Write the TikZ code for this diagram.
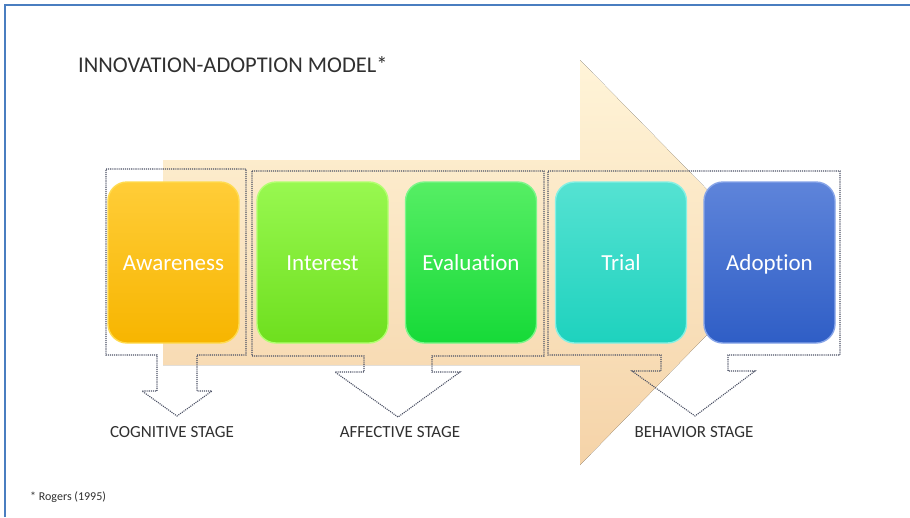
\documentclass[tikz,border=0pt]{standalone}
\usepackage{fontspec}
\setmainfont{Carlito}[Ligatures=NoCommon]
\definecolor{frameblue}{HTML}{4A7EC0}
\definecolor{txtgray}{HTML}{303030}
\definecolor{callgray}{HTML}{4A5064}
\definecolor{arrtop}{HTML}{FFF4D8}
\definecolor{arrbot}{HTML}{F5D3A8}
\definecolor{awT}{HTML}{FFCD38}\definecolor{awB}{HTML}{F7B500}\definecolor{awE}{HTML}{FFDB4F}
\definecolor{inT}{HTML}{98F850}\definecolor{inB}{HTML}{6EDF1E}\definecolor{inE}{HTML}{B2FF70}
\definecolor{evT}{HTML}{56EE64}\definecolor{evB}{HTML}{16DA38}\definecolor{evE}{HTML}{7CF58A}
\definecolor{trT}{HTML}{55E2D2}\definecolor{trB}{HTML}{1ED2BE}\definecolor{trE}{HTML}{86F0E4}
\definecolor{adT}{HTML}{5E84DA}\definecolor{adB}{HTML}{2F5EC6}\definecolor{adE}{HTML}{86A4E8}
\tikzset{
  stagebox/.style={rectangle, rounded corners=19pt, minimum width=131pt, minimum height=161pt,
    inner sep=0pt, line width=1.4pt, text=white, text height=17pt, text depth=2pt,
    font=\fontsize{23}{26}\selectfont},
  callout/.style={callgray, line width=1.1pt, densely dotted},
  stagelabel/.style={text=txtgray, font=\fontsize{17}{20}\selectfont, inner sep=0pt},
}
\begin{document}
\begin{tikzpicture}[x=1pt,y=-1pt]
\useasboundingbox (0,0) rectangle (910,517);
\fill[white] (0,0) rectangle (910,517);
% frame (top and left)
\draw[frameblue, line width=2pt] (5,517) -- (5,5) -- (910,5);
% big background arrow
\fill[top color=arrtop, bottom color=arrbot]
  (163,160) -- (580,160) -- (580,60) -- (778,262) -- (580,465) -- (580,365) -- (163,365) -- cycle;
% title and footnote
\node[anchor=west, text=txtgray, font=\fontsize{22.5}{26}\selectfont, inner sep=0pt] (title) at (78,65) {INNOVATION-ADOPTION MODEL*};
\node[anchor=west, text=txtgray, font=\fontsize{12}{14}\selectfont, inner sep=0pt] (note) at (30,497) {* Rogers (1995)};
% callouts
\draw[callout] (106,169) -- (246,169) -- (246,355) -- (197,355) -- (197,391) -- (212,391) -- (177,416)
  -- (142,391) -- (157,391) -- (157,355) -- (106,355) -- cycle;
\draw[callout] (252,171) -- (544,171) -- (544,356) -- (432,356) -- (432,372) -- (460,372) -- (398,417)
  -- (335,372) -- (364,372) -- (364,356) -- (252,356) -- cycle;
\draw[callout] (548,171) -- (840,171) -- (840,355) -- (728,355) -- (728,371) -- (755,371) -- (695,416)
  -- (632,371) -- (661,371) -- (661,355) -- (548,355) -- cycle;
% stage boxes
\node[stagebox, draw=awE, top color=awT, bottom color=awB] (aw) at (173.5,262.5) {Awareness};
\node[stagebox, draw=inE, top color=inT, bottom color=inB] (in) at (322.5,262.5) {Interest};
\node[stagebox, draw=evE, top color=evT, bottom color=evB] (ev) at (471,262.5) {Evaluation};
\node[stagebox, draw=trE, top color=trT, bottom color=trB] (tr) at (621,262.5) {Trial};
\node[stagebox, draw=adE, top color=adT, bottom color=adB] (ad) at (769.5,262.5) {Adoption};
% stage labels
\node[stagelabel] (cog) at (172,432) {COGNITIVE STAGE};
\node[stagelabel] (aff) at (400,432) {AFFECTIVE STAGE};
\node[stagelabel] (beh) at (694,432) {BEHAVIOR STAGE};
\end{tikzpicture}
\end{document}
